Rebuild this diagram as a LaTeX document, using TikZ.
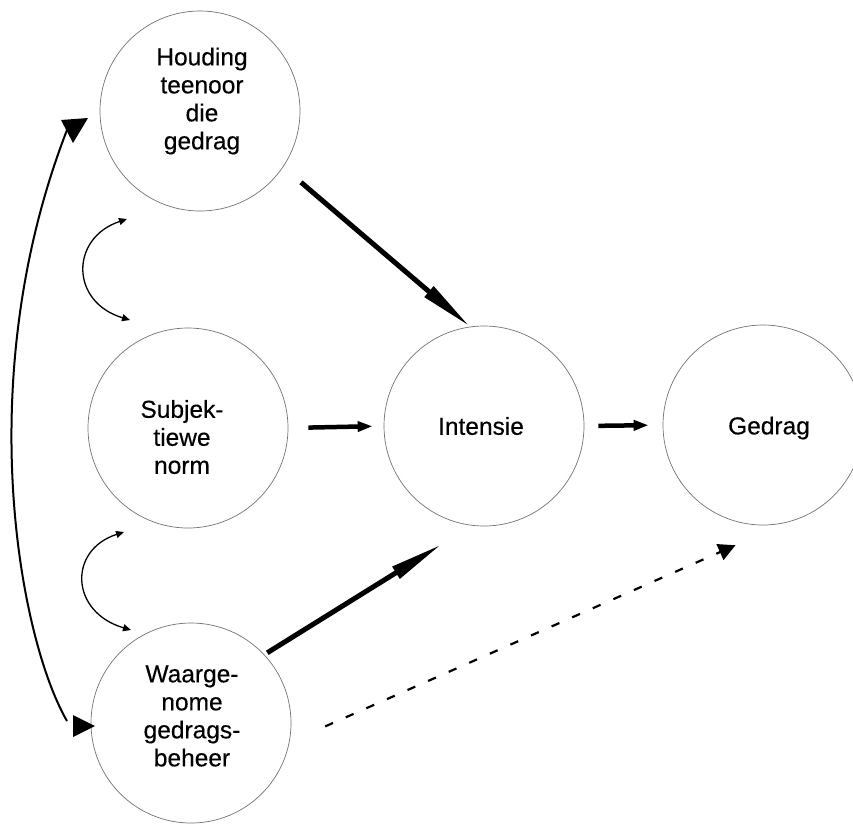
\documentclass[tikz,border=0pt]{standalone}
\usepackage{fontspec}
\setmainfont{Liberation Sans}[FakeBold=0.35]
\usetikzlibrary{arrows.meta}
\begin{document}
\begin{tikzpicture}[x=1pt,y=-1pt,
  circ/.style={circle,draw=black!55,line width=0.7pt,minimum size=200pt,inner sep=0pt},
  lbl/.style={align=center,font=\fontsize{24.5}{28}\selectfont,inner sep=0pt},
  bigarr/.style={line width=5pt,-{Triangle[length=54pt,width=13pt]}},
  medarr/.style={line width=4.5pt,-{Triangle[length=15pt,width=10pt]}},
  dasharr/.style={line width=2.2pt,dash pattern=on 8.5pt off 14pt,-{Triangle[length=17pt,width=17pt]}},
  smallarc/.style={line width=1.3pt,{Triangle[length=8pt,width=7pt]}-{Triangle[length=8pt,width=7pt]}},
  longarc/.style={line width=2pt}]
\useasboundingbox (0,0) rectangle (853,823);
\fill[white] (0,0) rectangle (853,823);

% circles
\node[circ] (h) at (200,111) {};
\node[circ] (s) at (188,428) {};
\node[circ] (w) at (191,723) {};
\node[circ] (i) at (484,426) {};
\node[circ] (g) at (763,425) {};

% labels
\node[lbl] (ht) at (202,101) {Houding\\teenoor\\die\\gedrag};
\node[lbl] (st) at (182,437) {Subjek-\\tiewe\\norm};
\node[lbl] (wt) at (192,716) {Waarge-\\nome\\gedrags-\\beheer};
\node[lbl] (it) at (481,426) {Intensie};
\node[lbl] (gt) at (769,428) {Gedrag};

% main arrows
\draw[bigarr,shorten <=23.4pt] (h.-34.5) -- (i.98);
\draw[bigarr,shorten <=3.4pt,shorten >=35.3pt] (w.43) -- (i.263);
\draw[medarr,shorten <=20pt,shorten >=11pt] (s.east) -- (i.west);
\draw[medarr,shorten <=14pt,shorten >=14pt] (i.east) -- (g.west);
\draw[dasharr,shorten <=39pt,shorten >=56.6pt] (w.-11) -- (g.-76);

% small double arcs
\coordinate (a1) at (127,219);
\coordinate (a2) at (130,320);
\coordinate (b1) at (124,532);
\coordinate (b2) at (131,630);
\draw[smallarc] (a1) .. controls (70,238) and (70,302) .. (a2);
\draw[smallarc] (b1) .. controls (68,550) and (70,612) .. (b2);

% long arc from Waargenome to Houding
\coordinate (lt) at (67,130);
\coordinate (lb) at (67,721);
\draw[longarc] (lt) .. controls (-30,380) and (20,640) .. (lb);
\fill (61,120) -- (88,118) -- (73,143) -- cycle;
\fill (73,715) -- (95,726) -- (73,737) -- cycle;
\end{tikzpicture}
\end{document}
